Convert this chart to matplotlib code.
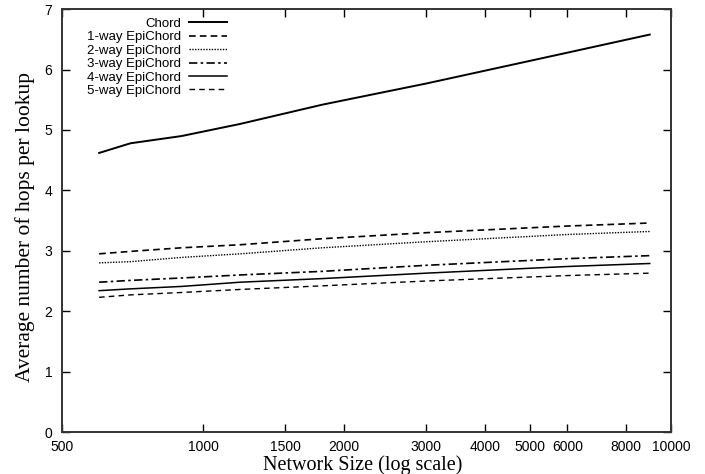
import matplotlib
matplotlib.use('Agg')
import matplotlib.pyplot as plt
from matplotlib.ticker import FixedLocator, NullLocator

# network sizes and average hops per lookup
sizes = [600, 700, 900, 1200, 1800, 3000, 6000, 9000]
chord = [4.62, 4.78, 4.90, 5.10, 5.42, 5.77, 6.28, 6.58]
epi1 = [2.95, 2.99, 3.05, 3.10, 3.20, 3.30, 3.41, 3.46]
epi2 = [2.80, 2.82, 2.89, 2.95, 3.05, 3.15, 3.27, 3.32]
epi3 = [2.48, 2.51, 2.55, 2.60, 2.66, 2.76, 2.87, 2.92]
epi4 = [2.34, 2.37, 2.41, 2.48, 2.54, 2.63, 2.74, 2.79]
epi5 = [2.23, 2.27, 2.31, 2.36, 2.42, 2.50, 2.59, 2.63]

labels = ['Chord', '1-way EpiChord', '2-way EpiChord', '3-way EpiChord',
          '4-way EpiChord', '5-way EpiChord']
xticks = [500, 1000, 1500, 2000, 3000, 4000, 5000, 6000, 8000, 10000]

sans = 'Liberation Sans'
serif = 'Liberation Serif'

fig = plt.figure(figsize=(7.05, 4.74), dpi=100)
ax = fig.add_axes([0.088, 0.0886, 0.864, 0.892])

series = [chord, epi1, epi2, epi3, epi4, epi5]
styles = [
    dict(color='black', lw=1.4, ls='-'),
    dict(color='black', lw=1.2, ls=(0, (4, 2.5))),
    dict(color='black', lw=1.0, ls=(0, (1, 1))),
    dict(color='black', lw=1.2, ls=(0, (5, 2, 1.5, 2))),
    dict(color='black', lw=1.1, ls='-'),
    dict(color='black', lw=1.0, ls=(0, (4, 3))),
]
for vals, lab, st in zip(series, labels, styles):
    ax.plot(sizes, vals, label=lab, **st)

ax.set_xscale('log')
ax.set_xlim(500, 10000)
ax.set_ylim(0, 7)
ax.xaxis.set_major_locator(FixedLocator(xticks))
ax.xaxis.set_minor_locator(NullLocator())
ax.set_xticklabels([str(t) for t in xticks], fontfamily=sans, fontsize=10)
ax.set_yticks(range(8))
ax.set_yticklabels([str(t) for t in range(8)], fontfamily=sans, fontsize=10)
ax.tick_params(direction='in', length=6, width=1, top=True, right=True)
ax.tick_params(axis='x', pad=6)
ax.tick_params(axis='y', pad=7)

for s in ax.spines.values():
    s.set_linewidth(1.4)
    s.set_color('#333333')

ax.set_xlabel('Network Size (log scale)', fontfamily=serif, fontsize=14.5)
ax.set_ylabel('Average number of hops per lookup', fontfamily=serif, fontsize=15.5)
ax.xaxis.set_label_coords(0.494, -0.054)
ax.yaxis.set_label_coords(-0.044, 0.485)

leg = ax.legend(loc='upper right', bbox_to_anchor=(0.271, 0.98), frameon=False,
                markerfirst=False, handlelength=2.9, handletextpad=0.6,
                labelspacing=0.09, borderaxespad=0, borderpad=0,
                prop={'family': sans, 'size': 9.5})
for t in leg.get_texts():
    t.set_ha('right')
leg._legend_box.align = 'right'

fig.savefig('out.png', dpi=100)
